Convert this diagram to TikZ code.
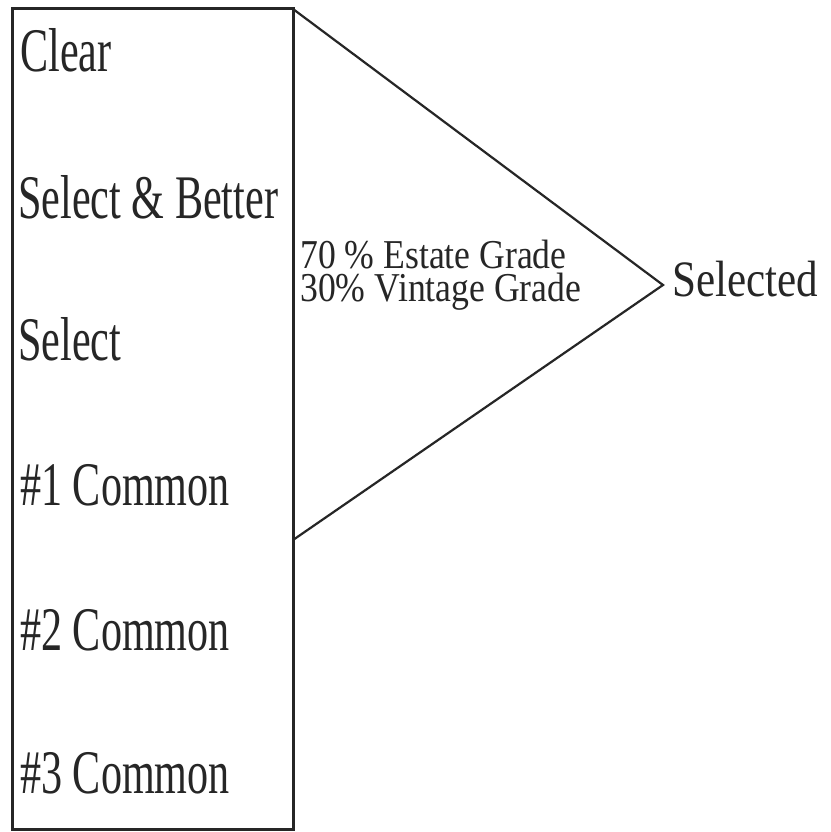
\documentclass[tikz,border=0pt]{standalone}
\usepackage{fontspec}
\setmainfont{Liberation Serif}
\newfontfamily\leftfont[FakeStretch=0.68]{Liberation Serif}
\newfontfamily\midfont[FakeStretch=0.87]{Liberation Serif}
\newfontfamily\outfont[FakeStretch=0.845]{Liberation Serif}
\begin{document}
\begin{tikzpicture}[x=1pt,y=-1pt,
  grade/.style={anchor=base west,inner sep=0pt,font=\leftfont\fontsize{62}{62}\selectfont,text=black!85},
  mix/.style={anchor=base west,inner sep=0pt,align=left,font=\midfont\fontsize{41}{33}\selectfont,text=black!85},
  result/.style={anchor=base west,inner sep=0pt,font=\outfont\fontsize{51}{51}\selectfont,text=black!85},
  boxline/.style={line width=3pt,draw=black!85},
  triline/.style={line width=2.2pt,draw=black!85}]
\useasboundingbox (0,0) rectangle (830,832);
\fill[white] (0,0) rectangle (830,832);
\coordinate (bTL) at (12,9);
\coordinate (bBR) at (293,829);
\coordinate (tTop) at (293,9);
\coordinate (tTip) at (663,285);
\coordinate (tBot) at (293,540);
\draw[boxline] (bTL) rectangle (bBR);
\draw[triline] (tTop) -- (tTip) -- (tBot);
\node[grade] (g1) at (20,72) {Clear};
\node[grade] (g2) at (18,218) {Select \& Better};
\node[grade] (g3) at (18,360) {Select};
\node[grade] (g4) at (20,505) {\#1 Common};
\node[grade] (g5) at (20,650) {\#2 Common};
\node[grade] (g6) at (20,793) {\#3 Common};
\node[mix] (m) at (300,301) {70 \% Estate Grade\\30\% Vintage Grade};
\node[result] (r) at (672,296) {Selected};
\end{tikzpicture}
\end{document}
